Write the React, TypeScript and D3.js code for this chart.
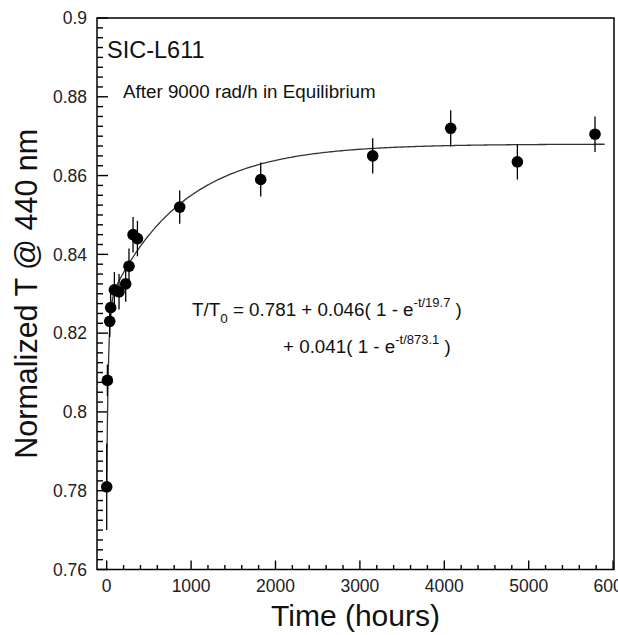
import React from 'react';
import * as d3 from 'd3';

// measured points: time (hours), normalized transmittance, error
const hours = [0, 8, 36, 47, 91, 146, 225, 264, 312, 364, 865, 1825, 3152, 4076, 4866, 5786];
const transmit = [0.781, 0.808, 0.823, 0.8265, 0.831, 0.8305, 0.8325, 0.837, 0.845, 0.844, 0.852, 0.859, 0.865, 0.872, 0.8635, 0.8705];
const errors = [0.011, 0.004, 0.004, 0.0045, 0.0045, 0.0045, 0.0045, 0.0045, 0.0045, 0.0045, 0.0042, 0.0043, 0.0045, 0.0046, 0.0045, 0.0045];

// fit: T/T0 = a + b(1 - e^-t/tau1) + c(1 - e^-t/tau2)
const fitParams = [0.781, 0.046, 19.7, 0.041, 873.1];

const xTicks = [0, 1000, 2000, 3000, 4000, 5000, 6000];
const yTicks = [0.76, 0.78, 0.8, 0.82, 0.84, 0.86, 0.88, 0.9];
const yTickLabels = ['0.76', '0.78', '0.8', '0.82', '0.84', '0.86', '0.88', '0.9'];

const W = 618;
const H = 635;
const frame = { left: 97, right: 614, top: 18, bottom: 569.5 };
const font = 'Liberation Sans, Arial, sans-serif';

const App = () => {
  const x = d3.scaleLinear().domain([-115, 6011]).range([frame.left, frame.right]);
  const y = d3.scaleLinear().domain([0.76, 0.9]).range([frame.bottom, frame.top]);

  const [a, b, tau1, c, tau2] = fitParams;
  const fit = (t: number) => a + b * (1 - Math.exp(-t / tau1)) + c * (1 - Math.exp(-t / tau2));
  const fitT = d3.range(0, 60, 1).concat(d3.range(60, 5910, 20));
  const curve = d3.line<number>()
    .x(t => x(t))
    .y(t => y(fit(t)))(fitT);

  const xMinor = d3.range(0, 6001, 200).filter(t => t % 1000 !== 0);
  const yMinor = d3.range(0, 57).map(i => 0.76 + i * 0.0025).filter(v => Math.abs(v * 50 - Math.round(v * 50)) > 1e-6);

  return (
    <svg width={W} height={H} style={{ position: 'absolute', left: 0, top: 0, background: '#fff' }} fontFamily={font}>
      {/* y ticks */}
      {yMinor.map((v, i) => (
        <line key={'ym' + i} x1={frame.left} x2={frame.left + 6} y1={y(v)} y2={y(v)} stroke="#000" strokeWidth={1.4} />
      ))}
      {yTicks.map((v, i) => (
        <g key={'y' + i}>
          <line x1={frame.left} x2={frame.left + 11} y1={y(v)} y2={y(v)} stroke="#000" strokeWidth={1.4} />
          <text x={87} y={y(v)} dy="0.36em" textAnchor="end" fontSize={17.5} fill="#222">{yTickLabels[i]}</text>
        </g>
      ))}
      {/* x ticks */}
      {xMinor.map((t, i) => (
        <line key={'xm' + i} x1={x(t)} x2={x(t)} y1={frame.bottom} y2={frame.bottom - 4.5} stroke="#000" strokeWidth={1.4} />
      ))}
      {xTicks.map((t, i) => (
        <g key={'x' + i}>
          <line x1={x(t)} x2={x(t)} y1={frame.bottom} y2={frame.bottom - 9} stroke="#000" strokeWidth={1.4} />
          <text x={x(t)} y={592} textAnchor="middle" fontSize={17.5} fill="#222">{t}</text>
        </g>
      ))}
      <rect x={frame.left} y={frame.top} width={frame.right - frame.left} height={frame.bottom - frame.top}
        fill="none" stroke="#000" strokeWidth={1.5} />

      {/* fit curve */}
      <path d={curve || ''} fill="none" stroke="#333" strokeWidth={1.3} />

      {/* data with error bars */}
      {hours.map((t, i) => (
        <g key={'p' + i}>
          <line x1={x(t)} x2={x(t)} y1={y(transmit[i] - errors[i])} y2={y(transmit[i] + errors[i])} stroke="#000" strokeWidth={1.3} />
          <circle cx={x(t)} cy={y(transmit[i])} r={5.8} fill="#000" />
        </g>
      ))}

      {/* annotations */}
      <text x={107} y={58} fontSize={23.5} fill="#111">SIC-L611</text>
      <text x={123} y={98} fontSize={18.8} fill="#111">After 9000 rad/h in Equilibrium</text>
      <text x={192} y={316} fontSize={18.8} fill="#111">
        T/T<tspan dy={7} fontSize={13.5}>0</tspan>
        <tspan dy={-7}> = 0.781 + 0.046( 1 - e</tspan>
        <tspan dy={-9} fontSize={13}>-t/19.7</tspan>
        <tspan dy={9}> )</tspan>
      </text>
      <text x={283} y={353} fontSize={18.8} fill="#111">
        + 0.041( 1 - e<tspan dy={-9} fontSize={13}>-t/873.1</tspan>
        <tspan dy={9}> )</tspan>
      </text>

      {/* axis titles */}
      <text x={(frame.left + frame.right) / 2} y={626} textAnchor="middle" fontSize={30} fill="#111">Time (hours)</text>
      <text transform={`translate(37,${(frame.top + frame.bottom) / 2}) rotate(-90)`} textAnchor="middle" fontSize={30.5} fill="#111">
        Normalized T @ 440 nm
      </text>
    </svg>
  );
};

export default App;
